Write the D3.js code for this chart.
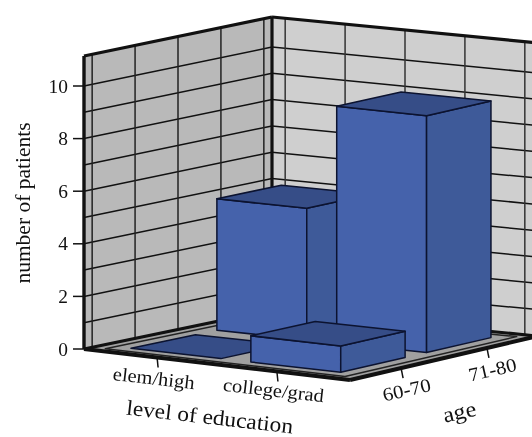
<!DOCTYPE html>
<html>
<head>
<meta charset="utf-8">
<script src="https://cdn.jsdelivr.net/npm/d3@7"></script>
<style>
  html, body { margin: 0; padding: 0; background: #fff; overflow: hidden; }
  svg { filter: blur(0.4px); }
  text { font-family: "Liberation Serif", serif; fill: #111; }
</style>
</head>
<body>
<div id="chart"></div>
<script>
const education = ["elem/high", "college/grad"]
const ages = ["60-70", "71-80"]
// rows follow ages, columns follow education
const patients_60_70 = [0, 1]
const patients_71_80 = [5, 9]
const countTicks = [0, 1, 2, 3, 4, 5, 6, 7, 8, 9, 10]
const countLabels = [0, 2, 4, 6, 8, 10]
const countMax = 11.14

const width = 532, height = 437

// floor corners on the page, u runs along education and v along age
const cornerLeft = [84, 349], cornerFront = [350, 380], cornerBack = [272, 310], cornerRight = [538, 336]
const unitHeight = 26.3

const svg = d3.select("#chart").append("svg")
    .attr("width", width)
    .attr("height", height)
    .attr("viewBox", "0 0 " + width + " " + height)

const xBand = d3.scaleBand().domain(education).range([0, 1]).paddingInner(0.25).paddingOuter(0.235)
const yBand = d3.scaleBand().domain(ages).range([0, 1]).paddingInner(0.25).paddingOuter(0.22)
const zScale = d3.scaleLinear().domain([0, 1]).range([0, unitHeight])

function project(u, v, z) {
    const px = (1 - u) * (1 - v) * cornerLeft[0] + u * (1 - v) * cornerFront[0] + (1 - u) * v * cornerBack[0] + u * v * cornerRight[0]
    const py = (1 - u) * (1 - v) * cornerLeft[1] + u * (1 - v) * cornerFront[1] + (1 - u) * v * cornerBack[1] + u * v * cornerRight[1]
    return [px, py - zScale(z || 0)]
}

const line = d3.line()
function poly(points, fill, stroke, sw) {
    svg.append("path")
        .attr("d", line(points) + "Z")
        .attr("fill", fill)
        .attr("stroke", stroke || "none")
        .attr("stroke-width", sw || 0)
        .attr("stroke-linejoin", "round")
}
function seg(a, b, sw, color) {
    svg.append("line")
        .attr("x1", a[0]).attr("y1", a[1])
        .attr("x2", b[0]).attr("y2", b[1])
        .attr("stroke", color || "#111")
        .attr("stroke-width", sw)
}
// the reference type is a little wider than the font, hence stretch
function label(txt, x, y, size, angle, anchor, stretch) {
    svg.append("text")
        .attr("transform", "translate(" + x + "," + y + ") rotate(" + angle + ") scale(" + (stretch || 1) + ",1)")
        .attr("text-anchor", anchor || "middle")
        .attr("font-size", size)
        .text(txt)
}

const xCenter = d => xBand(d) + xBand.bandwidth() / 2
const yCenter = d => yBand(d) + yBand.bandwidth() / 2

// walls
poly([project(0, 0, 0), project(0, 1, 0), project(0, 1, countMax), project(0, 0, countMax)], "#b9b9b9")
poly([project(0, 1, 0), project(1, 1, 0), project(1, 1, countMax), project(0, 1, countMax)], "#cfcfcf")

// floor
poly([project(0, 0, 0), project(1, 0, 0), project(1, 1, 0), project(0, 1, 0)], "#a0a0a0")

// wall grid
const xLines = education.flatMap(d => [xCenter(d) - xBand.step() / 2, xCenter(d)]).concat([xCenter(education[1]) + xBand.step() / 2])
const yLines = ages.flatMap(d => [yCenter(d) - yBand.step() / 2, yCenter(d)]).concat([yCenter(ages[1]) + yBand.step() / 2])

countTicks.forEach(t => {
    seg(project(0, 0, t), project(0, 1, t), 1.5)
    seg(project(0, 1, t), project(1, 1, t), 1.5)
})
yLines.forEach(v => seg(project(0, v, 0), project(0, v, countMax), 1.5, "#222"))
xLines.forEach(u => seg(project(u, 1, 0), project(u, 1, countMax), 1.5, "#333"))

// wall and floor borders
seg(project(0, 0, 0), project(0, 0, countMax), 3.4)
seg(project(0, 0, countMax), project(0, 1, countMax), 3.2)
seg(project(0, 1, countMax), project(1, 1, countMax), 3.2)
seg(project(0, 1, 0), project(0, 1, countMax), 3.2)
seg(project(0, 0, 0), project(0, 1, 0), 3)
seg(project(0, 1, 0), project(1, 1, 0), 3)
seg(project(0, 0, 0), project(1, 0, 0), 4)
seg(project(1, 0, 0), project(1, 1, 0), 4)

// floor inner frame
const frameU = xCenter(education[0]) - xBand.step() / 2, frameU2 = xCenter(education[1]) + xBand.step() / 2
const frameV = yCenter(ages[0]) - yBand.step() / 2, frameV2 = yCenter(ages[1]) + yBand.step() / 2
poly([project(frameU, frameV, 0), project(frameU2, frameV, 0), project(frameU2, frameV2, 0), project(frameU, frameV2, 0)], "none", "#222", 1.5)

// count axis
countLabels.forEach(t => {
    const p = project(0, 0, t)
    seg([p[0] - 11, p[1]], p, 1.5)
    label(t, p[0] - 16, p[1] + 6.5, 18.5, 0, "end", 1.05)
})
label("number of patients", 30, 203, 21.5, -90)

// education axis
education.forEach((d, i) => {
    const p = project(xCenter(d), 0, 0)
    seg(p, [p[0] + 1, p[1] + 10], 1.5)
    label(d, p[0] - 4, p[1] + (i ? 25 : 27), 19, 6.5, "middle", 1.08)
})
label("level of education", 209, 424, 21.5, 6.5, "middle", 1.09)

// age axis
ages.forEach(d => {
    const p = project(1, yCenter(d), 0)
    seg(p, [p[0] + 2, p[1] + 10], 1.5)
    label(d, p[0] + 7, p[1] + 28, 19, -13, "middle", 1.1)
})
label("age", 461, 419, 22, -13, "middle", 1.1)

// bars, far ones first
function bar(edu, age, value) {
    const u0 = xBand(edu), u1 = u0 + xBand.bandwidth()
    const v0 = yBand(age), v1 = v0 + yBand.bandwidth()
    if (value > 0) {
        poly([project(u0, v0, 0), project(u1, v0, 0), project(u1, v0, value), project(u0, v0, value)], "#4562ab", "#0c1330", 1.5)
        poly([project(u1, v0, 0), project(u1, v1, 0), project(u1, v1, value), project(u1, v0, value)], "#3e5a99", "#0c1330", 1.5)
    }
    poly([project(u0, v0, value), project(u1, v0, value), project(u1, v1, value), project(u0, v1, value)], "#364d87", "#0c1330", 1.5)
}
bar(education[0], ages[1], patients_71_80[0])
bar(education[1], ages[1], patients_71_80[1])
bar(education[0], ages[0], patients_60_70[0])
bar(education[1], ages[0], patients_60_70[1])
</script>
</body>
</html>
